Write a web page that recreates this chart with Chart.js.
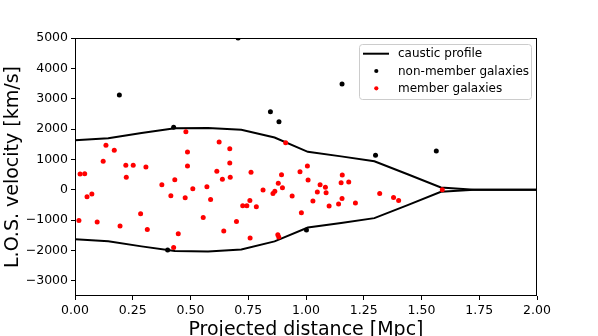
<!DOCTYPE html>
<html>
<head>
<meta charset="utf-8">
<script src="https://cdn.jsdelivr.net/npm/chart.js@4/dist/chart.umd.min.js"></script>
<style>
  html, body { margin: 0; padding: 0; background: #fff; }
  canvas { display: block; }
</style>
</head>
<body>
<canvas id="c" width="598" height="336" style="width:598px;height:336px"></canvas>
<script>
// ---- data ----
const xTicks = [0, 0.25, 0.5, 0.75, 1.0, 1.25, 1.5, 1.75, 2.0];
const yTicks = [-3000, -2000, -1000, 0, 1000, 2000, 3000, 4000, 5000];

const causticR     = [0, 0.144, 0.288, 0.432, 0.576, 0.72, 0.864, 1.008, 1.152, 1.296, 1.44, 1.584, 1.728, 1.872, 2.0];
const causticUpper = [1635, 1700, 1870, 2030, 2035, 1975, 1720, 1250, 1100, 940, 510, 75, 0, 0, 0];
const causticLower = [-1630, -1695, -1865, -2020, -2030, -1965, -1700, -1245, -1095, -935, -505, -65, 0, 0, 0];

const nonMemberR = [0.192, 0.427, 0.706, 0.846, 0.883, 1.156, 1.301, 1.564, 1.002, 0.401];
const nonMemberV = [3120, 2057, 5000, 2570, 2240, 3485, 1134, 1276, -1329, -1988];

const memberR = [0.134, 0.170, 0.480, 0.624, 0.670, 0.487, 0.912, 0.122, 0.220, 0.252, 0.307, 0.487, 0.670, 1.006,
  0.022, 0.042, 0.222, 0.376, 0.432, 0.052, 0.073, 0.415, 0.477, 0.017, 0.096, 0.195, 0.284, 0.313, 0.447, 0.427,
  0.614, 0.762, 0.974, 0.894, 0.638, 0.672, 0.880, 0.898, 0.510, 0.571, 0.587, 0.814, 0.865, 0.857, 0.940, 0.757,
  0.726, 0.744, 0.785, 0.980, 0.555, 0.699, 0.644, 0.758, 0.878, 0.882,
  1.157, 1.009, 1.152, 1.185, 1.061, 1.084, 1.049, 1.087, 1.319, 1.379, 1.401, 1.156, 1.030, 1.214, 1.141, 1.100, 1.590];
const memberV = [1464, 1299, 1912, 1573, 1352, 1243, 1550, 936, 804, 804, 748, 781, 880, 781,
  518, 528, 409, 165, 330, -231, -142, -198, -264, -1009, -1065, -1197, -791, -1306, -1451, -1899,
  607, 574, 593, 495, 343, 409, 211, 66, 33, 99, -317, -10, -53, -119, -208, -350,
  -528, -528, -561, -758, -910, -1042, -1362, -1593, -1484, -1560,
  485, 320, 231, 254, 165, 79, -76, -99, -119, -251, -350, -284, -373, -439, -471, -537, 0];

const xTitle = 'Projected distance [Mpc]';
const yTitle = 'L.O.S. velocity [km/s]';

// ---- build ----
const pts = (xs, ys) => xs.map((x, i) => ({ x: x, y: ys[i] }));
const FONT = 'DejaVu Sans';

const framePlugin = {
  id: 'frame',
  afterDraw(chart) {
    const ctx = chart.ctx;
    const a = chart.chartArea;
    ctx.save();
    // frame
    ctx.strokeStyle = '#000';
    ctx.lineWidth = 1;
    ctx.strokeRect(Math.round(a.left) + 0.5, Math.round(a.top) + 0.5,
                   Math.round(a.right - a.left) - 1, Math.round(a.bottom - a.top) - 1);
    // axis titles
    ctx.fillStyle = '#000';
    ctx.font = '19px "' + FONT + '"';
    ctx.textAlign = 'center';
    ctx.textBaseline = 'alphabetic';
    ctx.fillText(xTitle, (a.left + a.right) / 2, 335);
    ctx.save();
    ctx.translate(18, (a.top + a.bottom) / 2);
    ctx.rotate(-Math.PI / 2);
    ctx.fillText(yTitle, 0, 0);
    ctx.restore();

    // legend
    const bx = 359.5, by = 44.5, bw = 172, bh = 55;
    ctx.fillStyle = 'rgba(255,255,255,0.8)';
    ctx.strokeStyle = '#cccccc';
    ctx.lineWidth = 1;
    ctx.beginPath();
    ctx.roundRect(bx, by, bw, bh, 3);
    ctx.fill();
    ctx.stroke();
    const ds = chart.data.datasets;
    const rows = [53.7, 71, 88.3];
    const entries = [ds[0], ds[2], ds[3]];
    ctx.font = '12px "' + FONT + '"';
    ctx.textAlign = 'left';
    ctx.textBaseline = 'middle';
    entries.forEach((d, i) => {
      const y = rows[i];
      if (i === 0) {
        ctx.strokeStyle = d.borderColor;
        ctx.lineWidth = 2;
        ctx.beginPath();
        ctx.moveTo(363, y);
        ctx.lineTo(389, y);
        ctx.stroke();
      } else {
        ctx.fillStyle = d.backgroundColor;
        ctx.beginPath();
        ctx.arc(376.3, y, 2.1, 0, Math.PI * 2);
        ctx.fill();
      }
      ctx.fillStyle = '#000';
      ctx.fillText(d.label, 398, y + 0.5);
    });
    ctx.restore();
  }
};

const axisCommon = {
  type: 'linear',
  grid: { display: true, drawOnChartArea: false, drawTicks: true, tickLength: 4, color: '#000', lineWidth: 1 },
  border: { display: false },
};

new Chart(document.getElementById('c'), {
  type: 'scatter',
  data: {
    datasets: [
      { label: 'caustic profile', type: 'line', data: pts(causticR, causticUpper), borderColor: '#000',
        backgroundColor: '#000', borderWidth: 2, pointRadius: 0, fill: false, tension: 0, order: 3 },
      { label: 'caustic lower', type: 'line', data: pts(causticR, causticLower), borderColor: '#000',
        backgroundColor: '#000', borderWidth: 2, pointRadius: 0, fill: false, tension: 0, order: 3 },
      { label: 'non-member galaxies', data: pts(nonMemberR, nonMemberV), backgroundColor: '#000',
        borderWidth: 0, pointRadius: 2.5, order: 2, clip: 0 },
      { label: 'member galaxies', data: pts(memberR, memberV), backgroundColor: '#ff0000',
        borderWidth: 0, pointRadius: 2.5, order: 1, clip: 0 }
    ]
  },
  options: {
    responsive: false,
    animation: false,
    devicePixelRatio: 1,
    layout: { padding: { top: 38, right: 61, left: 0, bottom: 0 } },
    plugins: { legend: { display: false }, tooltip: { enabled: false }, title: { display: false } },
    scales: {
      x: Object.assign({}, axisCommon, {
        min: 0, max: 2,
        afterBuildTicks: s => { s.ticks = xTicks.map(v => ({ value: v })); },
        ticks: { callback: v => Number(v).toFixed(2), font: { family: FONT, size: 12.5 }, color: '#000',
                 padding: 3, maxRotation: 0, autoSkip: false },
        afterFit: s => { s.height = 40; }
      }),
      y: Object.assign({}, axisCommon, {
        min: -3500, max: 5000,
        afterBuildTicks: s => { s.ticks = yTicks.map(v => ({ value: v })); },
        ticks: { callback: v => String(v).replace('-', '\u2212'), font: { family: FONT, size: 12.5 }, color: '#000',
                 padding: 3, autoSkip: false },
        afterFit: s => { s.width = 75; }
      })
    }
  },
  plugins: [framePlugin]
});
</script>
</body>
</html>
